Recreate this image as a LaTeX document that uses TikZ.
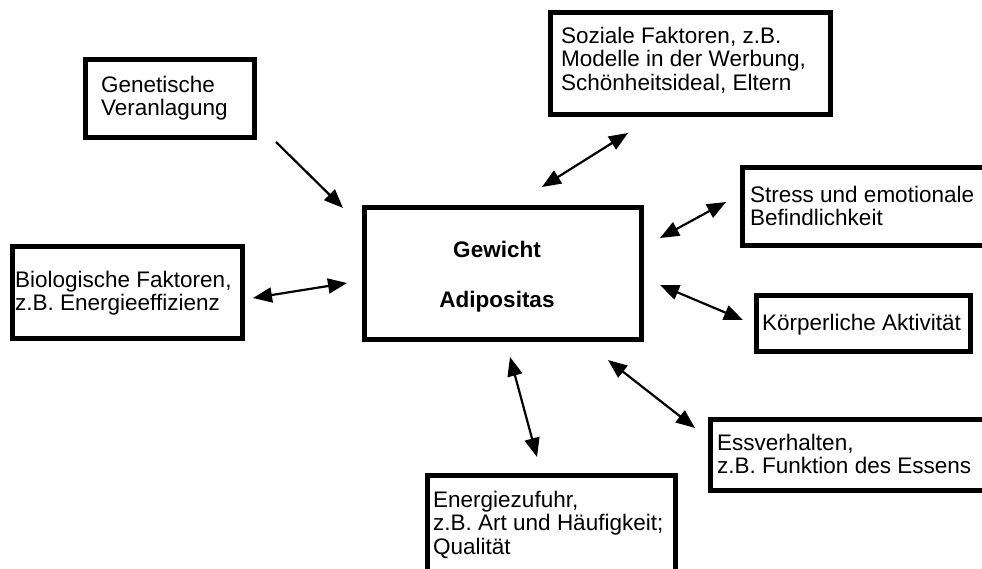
\documentclass[tikz,border=0pt]{standalone}
\usepackage{fontspec}
\setmainfont{Liberation Sans}
\usetikzlibrary{arrows.meta}
\begin{document}
\begin{tikzpicture}[x=1pt,y=-1pt,
  box/.style={draw=black, line width=5pt, rectangle, inner sep=0pt},
  txt/.style={align=left, inner sep=0pt, anchor=base west,
    font=\fontsize{22.5}{23.5}\selectfont},
  title/.style={inner sep=0pt, anchor=base,
    font=\fontsize{22.5}{23.5}\selectfont\bfseries},
  tip/.tip={Triangle[length=19pt,width=15pt]},
  link/.style={line width=2.2pt, -tip},
  both/.style={line width=2.2pt, tip-tip}]
\clip (0,0) rectangle (982,568);
\fill[white] (0,0) rectangle (982,568);

% boxes
\node[box, minimum width=169pt, minimum height=78pt] (gen) at (170,98.5) {};
\node[box, minimum width=280pt, minimum height=102pt] (soz) at (690.5,63.5) {};
\node[box, minimum width=277pt, minimum height=132pt] (ctr) at (503,273.5) {};
\node[box, minimum width=255pt, minimum height=78pt] (str) at (870,206.5) {};
\node[box, minimum width=214pt, minimum height=56pt] (akt) at (863.5,323.5) {};
\node[box, minimum width=287pt, minimum height=71pt] (ess) at (854,455) {};
\node[box, minimum width=248pt, minimum height=122pt] (ene) at (551.5,536.5) {};
\node[box, minimum width=230pt, minimum height=92pt] (bio) at (127.5,292.5) {};

% texts (anchored at the baseline of the last line)
\node[txt] (gent) at (101,115.5) {Genetische\\Veranlagung};
\node[txt] (sozt) at (561,90) {Soziale Faktoren, z.B.\\Modelle in der Werbung,\\Schönheitsideal, Eltern};
\node[title] (ctra) at (497,257) {Gewicht};
\node[title] (ctrb) at (497,307) {Adipositas};
\node[txt] (strt) at (750,225.5) {Stress und emotionale\\Befindlichkeit};
\node[txt] (aktt) at (762,330) {Körperliche Aktivität};
\node[txt] (biot) at (15,310.5) {Biologische Faktoren,\\z.B. Energieeffizienz};
\node[txt] (enet) at (433,554) {Energiezufuhr,\\z.B. Art und Häufigkeit;\\Qualität};
\node[txt] (esst) at (717,473.5) {Essverhalten,\\z.B. Funktion des Essens};

% connector ends
\coordinate (g1) at (276,142);  \coordinate (g2) at (343,208);
\coordinate (s1) at (542,187);  \coordinate (s2) at (628,133);
\coordinate (t1) at (660,238);  \coordinate (t2) at (726,202);
\coordinate (a1) at (660,285);  \coordinate (a2) at (743,320);
\coordinate (e1) at (608,360);  \coordinate (e2) at (695,428);
\coordinate (n1) at (510,357);  \coordinate (n2) at (537,457);
\coordinate (b1) at (347,283);  \coordinate (b2) at (253,298);

% connectors
\draw[link] (g1) -- (g2);
\draw[both] (s1) -- (s2);
\draw[both] (t1) -- (t2);
\draw[both] (a1) -- (a2);
\draw[both] (e1) -- (e2);
\draw[both] (n1) -- (n2);
\draw[both] (b1) -- (b2);
\end{tikzpicture}
\end{document}
